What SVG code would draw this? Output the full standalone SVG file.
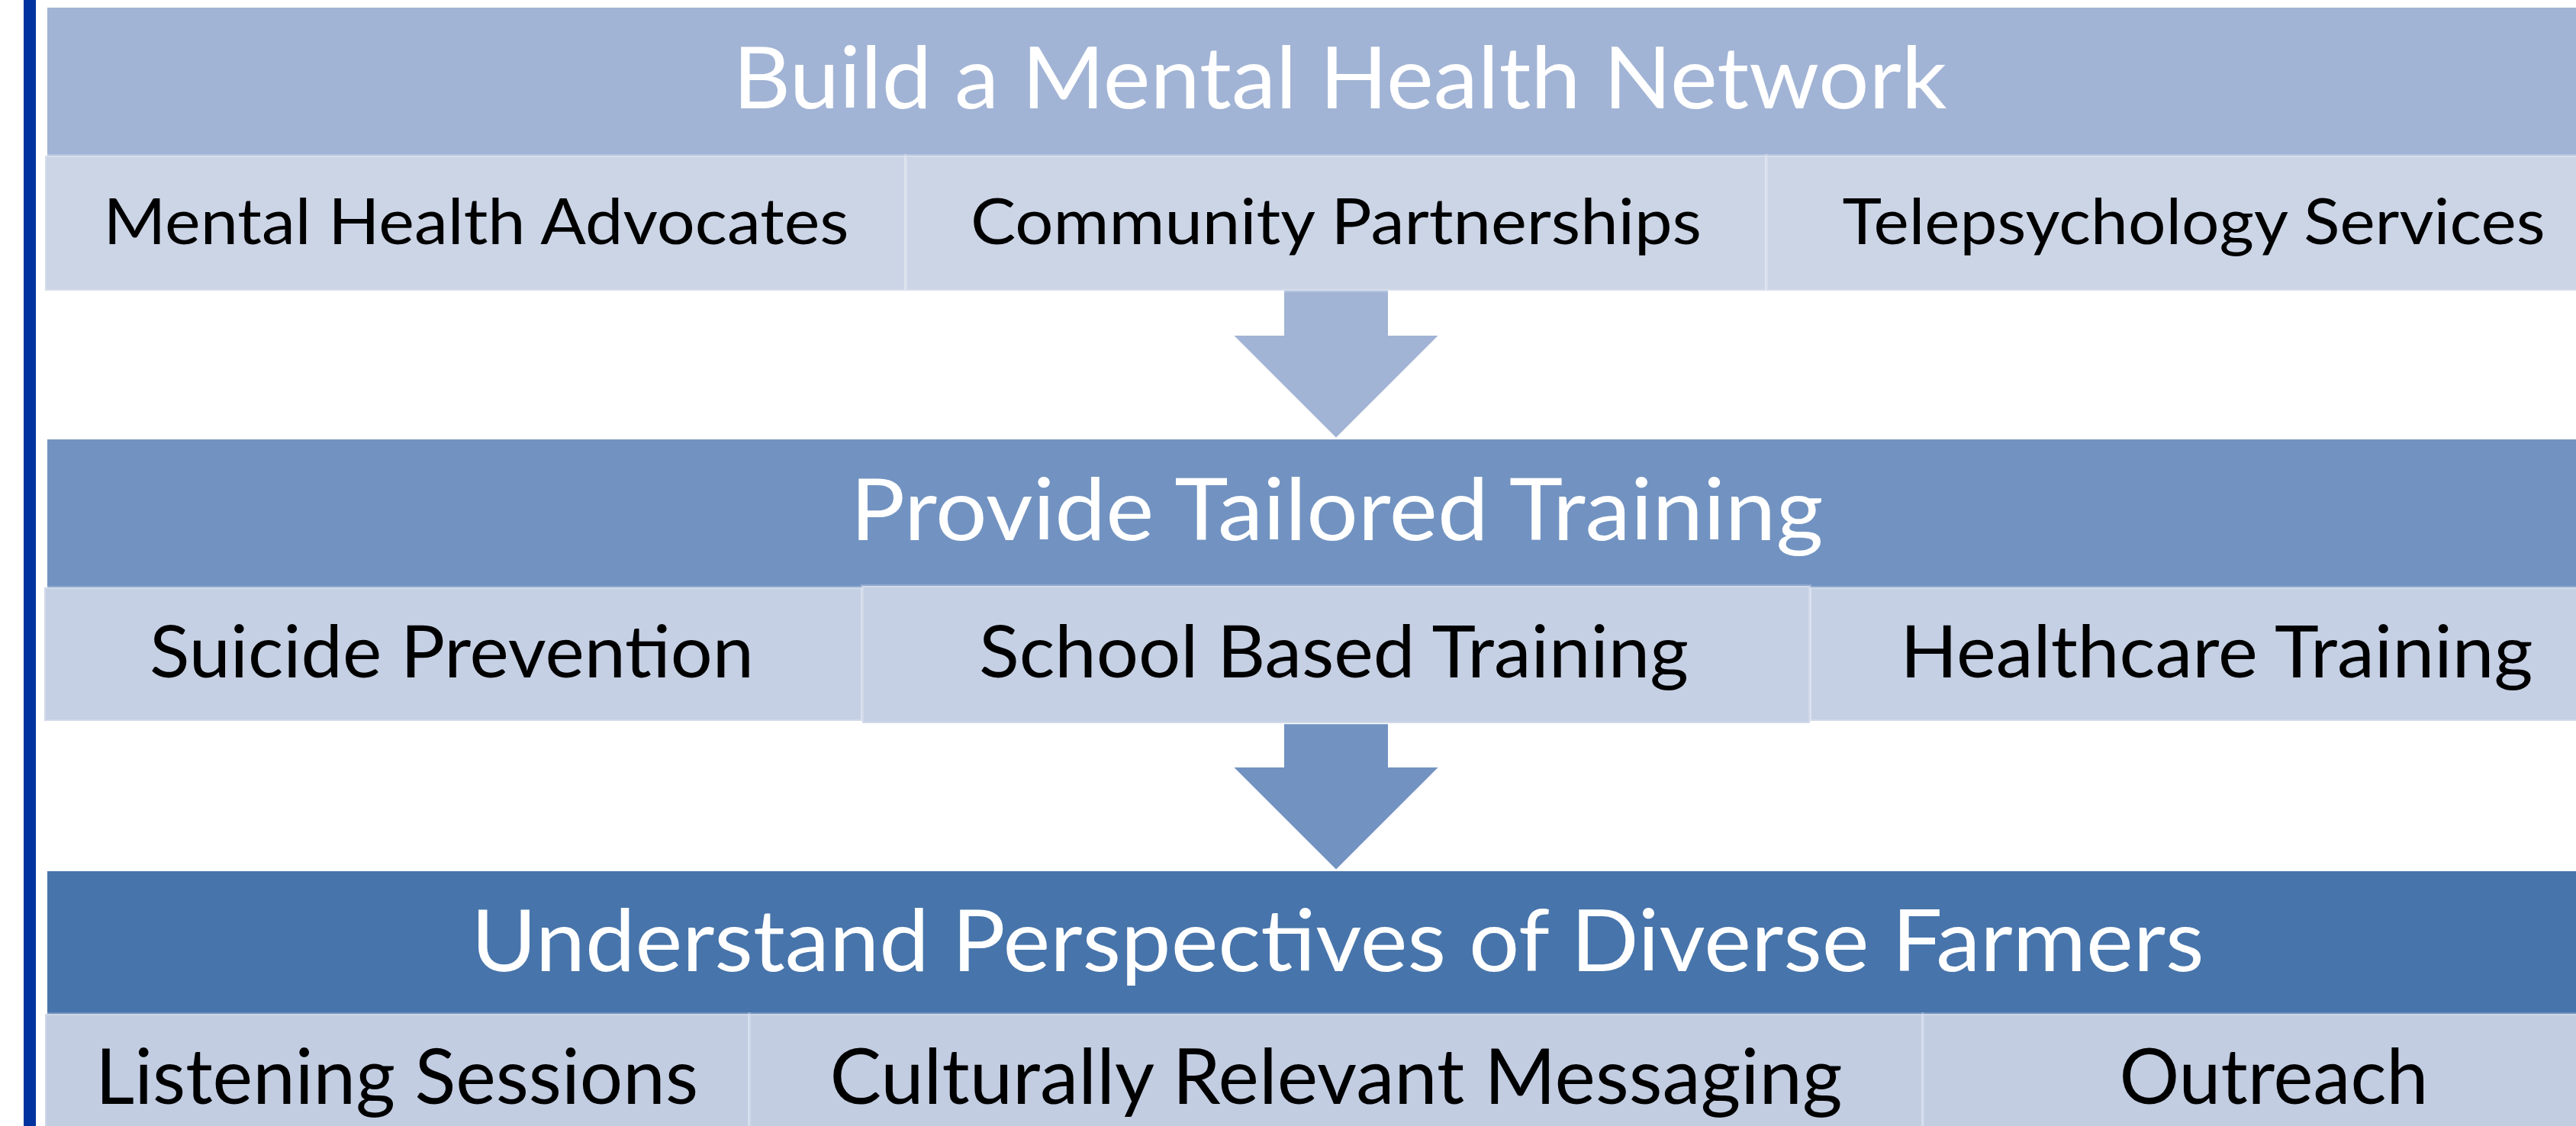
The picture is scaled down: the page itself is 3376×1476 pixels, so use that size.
<svg xmlns="http://www.w3.org/2000/svg" width="3376" height="1476" viewBox="0 0 3376 1476">
  <style>
    .title { font-family: Lato, "Open Sans", "Liberation Sans", sans-serif; font-size: 112px; fill: #ffffff; text-anchor: middle; }
    .item { font-family: Lato, "Open Sans", "Liberation Sans", sans-serif; fill: #000000; text-anchor: middle; }
    .cell { stroke: #ffffff; stroke-opacity: 0.22; stroke-width: 4; }
    .arrow { stroke: #ffffff; stroke-width: 2; stroke-linejoin: miter; }
  </style>

  <rect width="3376" height="1476" fill="#ffffff"/>

  <!-- left accent bar -->
  <rect x="31" y="0" width="16" height="1476" fill="#0033A0"/>

  <!-- connectors between stages -->
  <g id="connectors">
    <polygon class="arrow" fill="#A2B4D5" points="1682,380 1820,380 1820,439 1887,439 1751,575 1615,439 1682,439"/>
    <polygon class="arrow" fill="#7293C1" points="1682,948 1820,948 1820,1005 1887,1005 1751,1141 1615,1005 1682,1005"/>
  </g>

  <!-- stage 1 -->
  <g id="stage-network">
    <rect x="62" y="10" width="3320" height="194" fill="#A2B4D5"/>
    <text class="title" x="1756" y="142" textLength="1591" lengthAdjust="spacingAndGlyphs">Build a Mental Health Network</text>
  </g>
  <g id="network-advocates">
    <rect class="cell" x="59" y="204" width="1128" height="177" fill="#CBD5E6"/>
    <text class="item" x="624" y="320" font-size="84" textLength="977" lengthAdjust="spacingAndGlyphs">Mental Health Advocates</text>
  </g>
  <g id="network-partnerships">
    <rect class="cell" x="1187" y="204" width="1128" height="177" fill="#CBD5E6"/>
    <text class="item" x="1751" y="320" font-size="84" textLength="958" lengthAdjust="spacingAndGlyphs">Community Partnerships</text>
  </g>
  <g id="network-telepsychology">
    <rect class="cell" x="2315" y="204" width="1120" height="177" fill="#CBD5E6"/>
    <text class="item" x="2875" y="320" font-size="84" textLength="921" lengthAdjust="spacingAndGlyphs">Telepsychology Services</text>
  </g>

  <!-- stage 2 -->
  <g id="stage-training">
    <rect x="62" y="576" width="3320" height="194" fill="#7293C1"/>
    <text class="title" x="1752" y="708" textLength="1275" lengthAdjust="spacingAndGlyphs">Provide Tailored Training</text>
  </g>
  <g id="training-suicide">
    <rect class="cell" x="58" y="770" width="1072" height="175" fill="#C5D0E4"/>
    <text class="item" x="592" y="888" font-size="95" textLength="792" lengthAdjust="spacingAndGlyphs">Suicide Prevention</text>
  </g>
  <g id="training-healthcare">
    <rect class="cell" x="2372" y="770" width="1070" height="175" fill="#C5D0E4"/>
    <text class="item" x="2905" y="888" font-size="95" textLength="829" lengthAdjust="spacingAndGlyphs">Healthcare Training</text>
  </g>
  <g id="training-school">
    <rect class="cell" x="1130" y="768" width="1242" height="180" fill="#C5D0E4"/>
    <text class="item" x="1748" y="888" font-size="95" textLength="930" lengthAdjust="spacingAndGlyphs">School Based Training</text>
  </g>

  <!-- stage 3 -->
  <g id="stage-perspectives">
    <rect x="62" y="1142" width="3320" height="187" fill="#4774AA"/>
    <text class="title" x="1753" y="1273" textLength="2271" lengthAdjust="spacingAndGlyphs">Understand Perspectives of Diverse Farmers</text>
  </g>
  <g id="perspectives-listening">
    <rect class="cell" x="59" y="1329" width="923" height="160" fill="#C2CDE2"/>
    <text class="item" x="520" y="1447" font-size="100" textLength="790" lengthAdjust="spacingAndGlyphs">Listening Sessions</text>
  </g>
  <g id="perspectives-messaging">
    <rect class="cell" x="982" y="1329" width="1538" height="160" fill="#C2CDE2"/>
    <text class="item" x="1751" y="1447" font-size="100" textLength="1327" lengthAdjust="spacingAndGlyphs">Culturally Relevant Messaging</text>
  </g>
  <g id="perspectives-outreach">
    <rect class="cell" x="2520" y="1329" width="920" height="160" fill="#C2CDE2"/>
    <text class="item" x="2980" y="1447" font-size="100" textLength="405" lengthAdjust="spacingAndGlyphs">Outreach</text>
  </g>
</svg>
